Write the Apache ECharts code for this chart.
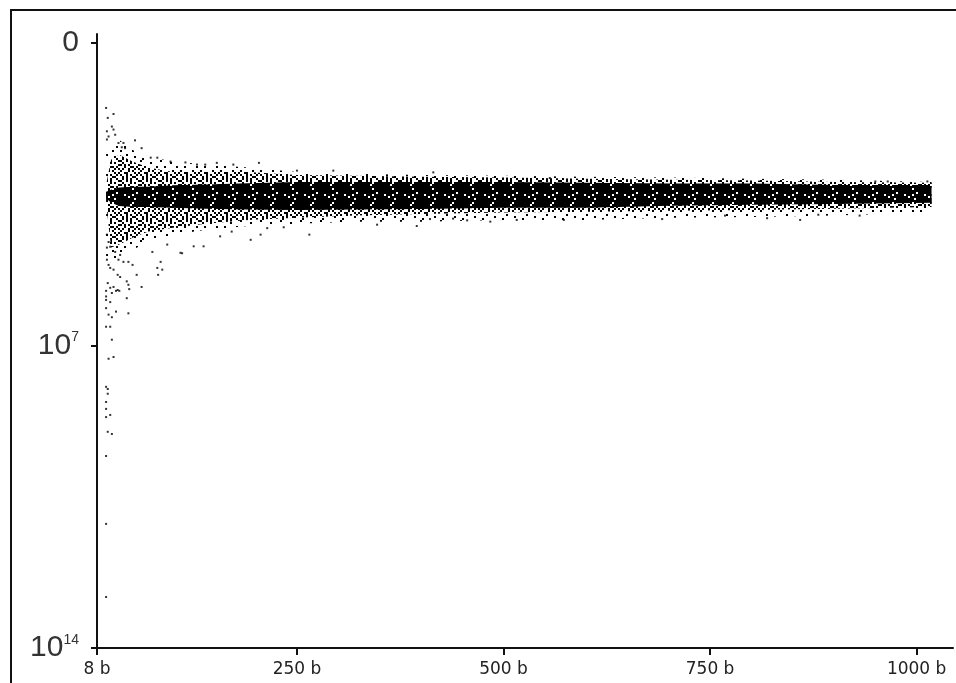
<!DOCTYPE html>
<html>
<head>
<meta charset="UTF-8">
<title>scatter band</title>
<style type="text/css">
html, body {
	margin: 0;
	padding: 0;
	background: #fff;
}
#main {
	width: 956px;
	height: 683px;
}
</style>
</head>
<body>
<div id="main"></div>
<script type="text/javascript" src="https://cdn.jsdelivr.net/npm/echarts@6/dist/echarts.min.js"></script>
<script type="text/javascript">
	// x ticks (bytes) and y ticks (power of ten)
	var xTicks = [ 8, 250, 500, 750, 1000 ];
	var yTicks = [ 0, 7, 14 ];

	// the dense cloud per x position
	var bandX     = [ 19, 25, 35, 51, 70, 100, 140, 191, 250, 320, 400, 501, 601, 700, 801, 901, 1018 ];
	var haloTop   = [ 2.48, 2.36, 2.25, 2.48, 2.64, 2.75, 2.82, 2.89, 2.99, 3.03, 3.06, 3.08, 3.10, 3.12, 3.15, 3.17, 3.22 ];
	var haloBot   = [ 5.14, 5.07, 4.98, 4.79, 4.61, 4.44, 4.33, 4.24, 4.19, 4.14, 4.14, 4.10, 4.10, 4.05, 4.03, 4.00, 3.93 ];
	var denseTop  = [ 3.30, 2.71, 2.59, 2.75, 2.89, 2.99, 2.99, 2.99, 3.06, 3.08, 3.10, 3.12, 3.15, 3.17, 3.19, 3.22, 3.24 ];
	var denseBot  = [ 3.70, 4.74, 4.67, 4.51, 4.37, 4.28, 4.19, 4.10, 4.05, 4.00, 3.96, 3.93, 3.91, 3.89, 3.87, 3.84, 3.80 ];
	var coreTop   = [ 3.45, 3.40, 3.35, 3.33, 3.33, 3.30, 3.28, 3.25, 3.22, 3.22, 3.22, 3.22, 3.24, 3.26, 3.26, 3.29, 3.29 ];
	var coreBot   = [ 3.60, 3.70, 3.78, 3.80, 3.80, 3.82, 3.84, 3.86, 3.87, 3.86, 3.85, 3.82, 3.82, 3.77, 3.75, 3.73, 3.70 ];

	// single points outside the cloud
	var ptX = [ 19, 19, 19, 21, 26, 19, 24, 19, 19, 21, 21, 19, 22, 28, 26, 19, 24, 22, 26, 31,
		46, 19, 24, 44, 19, 19, 26, 19, 31, 35, 21, 28, 44, 46, 47, 62, 24, 33,
		22, 24, 28, 33, 36, 20, 30, 36, 34, 40, 46, 51, 56, 81, 82, 85, 75, 109,
		93, 111, 125, 137, 87, 157, 194, 206, 20, 22, 24, 20,
		19, 28, 21, 26, 20, 22, 28, 30, 20, 54, 62, 34, 40, 38, 42, 73, 81, 97,
		115, 129, 139, 153, 173, 204, 250, 294, 415, 556, 950, 965, 1013,
		171, 214, 234, 265, 347, 395, 411, 439, 456, 484, 516, 573, 692, 768,
		819, 859, 881, 931 ];
	var ptY = [ 12.82, 11.13, 9.56, 9.00, 9.05, 8.66, 8.61, 8.47, 8.31, 8.12, 8.01, 7.96, 7.31, 7.27, 6.87, 6.57, 6.57, 6.29, 6.35, 6.22,
		6.26, 6.14, 6.00, 5.91, 5.95, 5.87, 5.79, 5.74, 5.74, 5.74, 5.56, 5.65, 5.52, 5.60, 5.70, 5.65, 5.67, 5.72,
		5.14, 5.21, 5.25, 5.37, 5.42, 5.02, 4.84, 4.91, 5.02, 5.07, 5.07, 5.14, 5.37, 5.21, 5.37, 5.07, 4.84, 4.86,
		4.67, 4.87, 4.71, 4.71, 5.25, 4.48, 4.56, 4.44, 4.44, 4.61, 4.72, 4.74,
		1.51, 1.65, 1.74, 1.94, 2.05, 2.17, 2.01, 2.13, 2.24, 2.26, 2.44, 2.32, 2.32, 2.42, 2.44, 2.66, 2.66, 2.75,
		2.77, 2.82, 2.82, 2.78, 2.82, 2.78, 2.96, 2.96, 3.00, 3.13, 3.21, 3.21, 3.21,
		4.37, 4.29, 4.27, 4.44, 4.21, 4.24, 4.08, 4.07, 4.11, 4.14, 4.10, 4.10, 4.08, 4.00,
		4.06, 4.10, 3.98, 4.00 ];

	// dot textures for the cloud, cells of 2x2 pixels
	var haloRows = [ "X.........", ".....X....", "..........", "..X.....X.", "..........", "X.....X...", "..........", "...X......", ".......X..", ".X........" ];
	var denseRows = [ "X..X.X...X", ".X...X.X..", "X.X.X....X", "..X..XX...", ".X..X..X.X", "X...X.X...", "..XX...X.X", "X....X..X.", ".X.X..X...", "...X.X..X." ];
	var coreRows = [ "XXX.XXXXX.", "X.XXXX.XXX", "XXXXX.XXXX", "XX.XXXXX.X", "XXXXXX.XXX", ".XXX.XXXXX", "XXXXXXXX.X", "XX.XXX.XXX", "XXXX.XXXXX", "X.XXXXX.XX" ];

	function makePattern(rows) {
		var c = document.createElement('canvas');
		c.width = rows[0].length * 2;
		c.height = rows.length * 2;
		var ctx = c.getContext('2d');
		ctx.fillStyle = '#000';
		for (var r = 0; r < rows.length; r++) {
			for (var k = 0; k < rows[r].length; k++) {
				if (rows[r].charAt(k) == 'X') {
					ctx.fillRect(k * 2, r * 2, 2, 2);
				}
			}
		}
		return { image: c, repeat: 'repeat' };
	}

	function bandSeries(top, bot, rows, z) {
		var fill = makePattern(rows);
		return {
			type : 'custom',
			silent : true,
			z : z,
			clip : true,
			data : [ [ bandX[0], top[0] ] ],
			renderItem : function(params, api) {
				var pts = [];
				for (var i = 0; i < bandX.length; i++) {
					pts.push(api.coord([ bandX[i], top[i] ]));
				}
				for (var j = bandX.length - 1; j >= 0; j--) {
					pts.push(api.coord([ bandX[j], bot[j] ]));
				}
				return {
					type : 'polygon',
					shape : { points : pts },
					style : { fill : fill, stroke : null }
				};
			}
		};
	}

	var scatterData = [];
	for (var i = 0; i < ptX.length; i++) {
		scatterData.push([ ptX[i], ptY[i] ]);
	}

	var chart = echarts.init(document.getElementById('main'));
	var option = {
		backgroundColor : '#fff',
		animation : false,
		grid : {
			left : 97,
			right : 3,
			top : 34,
			bottom : 35
		},
		xAxis : {
			type : 'value',
			min : 8,
			max : 1044,
			axisLine : { onZero : false, lineStyle : { color : '#111', width : 2 } },
			splitLine : { show : false },
			axisTick : {
				show : true,
				customValues : xTicks,
				length : 7,
				lineStyle : { color : '#111', width : 2 }
			},
			axisLabel : {
				customValues : xTicks,
				formatter : function(v) { return v + ' b'; },
				fontFamily : 'DejaVu Sans',
				fontSize : 17,
				color : '#222',
				margin : 13
			}
		},
		yAxis : {
			type : 'value',
			inverse : true,
			min : -0.2,
			max : 14,
			axisLine : { show : true, onZero : false, lineStyle : { color : '#111', width : 2 } },
			splitLine : { show : false },
			axisTick : {
				show : true,
				customValues : yTicks,
				length : 6,
				lineStyle : { color : '#111', width : 2 }
			},
			axisLabel : {
				customValues : yTicks,
				formatter : function(v) {
					if (v == 0) return '{base|0}';
					return '{base|10}{sup|' + v + '}';
				},
				margin : 18,
				rich : {
					base : { fontFamily : 'Liberation Sans', fontSize : 30, lineHeight : 30, color : '#333' },
					sup : { fontFamily : 'Liberation Sans', fontSize : 14, lineHeight : 14, color : '#333', verticalAlign : 'top' }
				}
			}
		},
		graphic : [ {
			type : 'rect',
			silent : true,
			shape : { x : 11, y : 10, width : 960, height : 700 },
			style : { fill : null, stroke : '#111', lineWidth : 2 }
		} ],
		series : [
			bandSeries(haloTop, haloBot, haloRows, 1),
			bandSeries(denseTop, denseBot, denseRows, 2),
			bandSeries(coreTop, coreBot, coreRows, 3),
			{
				type : 'scatter',
				z : 4,
				symbol : 'rect',
				symbolSize : 2,
				itemStyle : { color : '#000' },
				data : scatterData
			}
		]
	};
	chart.setOption(option);
</script>
</body>
</html>
